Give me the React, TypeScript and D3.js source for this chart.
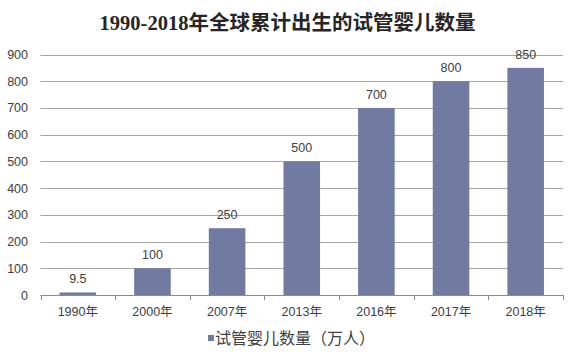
import React from "react";
import * as d3 from "d3";

const categories = ["1990年", "2000年", "2007年", "2013年", "2016年", "2017年", "2018年"];
const values = [9.5, 100, 250, 500, 700, 800, 850];
const valueLabels = ["9.5", "100", "250", "500", "700", "800", "850"];
const yTicks = [0, 100, 200, 300, 400, 500, 600, 700, 800, 900];
const title = "1990-2018年全球累计出生的试管婴儿数量";
const seriesName = "试管婴儿数量（万人）";

const W = 574;
const H = 357;
const left = 40.5;
const right = 563;
const top = 54.5;
const bottom = 295;
const barColor = "#717aa0";
const sans = "'Liberation Sans', Arial, 'Noto Sans CJK SC', sans-serif";

export default function App() {
  const x = d3.scaleBand<string>().domain(categories).range([left, right]).paddingInner(0).paddingOuter(0);
  const y = d3.scaleLinear().domain([0, 900]).range([bottom, top]);
  const bw = x.bandwidth() * 0.49;
  const ticksX = [...categories.map((c) => x(c) as number), right];

  return (
    <svg width={W} height={H} style={{ position: "absolute", left: 0, top: 0, background: "#fff" }}>
      <rect x={0} y={0} width={W} height={H} fill="#fff" />
      <text
        x={287.5}
        y={30}
        textAnchor="middle"
        fontSize={20.5}
        fontWeight="bold"
        fill="#262626"
        fontFamily="'Liberation Serif', 'Times New Roman', 'Noto Sans CJK SC', serif"
      >
        {title}
      </text>
      {yTicks.map((t) => (
        <g key={t}>
          {t > 0 && <line x1={left} x2={right} y1={Math.round(y(t)) + 0.5} y2={Math.round(y(t)) + 0.5} stroke="#a6a6a6" strokeWidth={1} />}
          <text x={28} y={y(t) + 4.5} textAnchor="end" fontSize={12.5} fill="#404040" fontFamily={sans}>
            {t}
          </text>
        </g>
      ))}
      {categories.map((c, i) => {
        const cx = (x(c) as number) + x.bandwidth() / 2;
        return (
          <g key={c}>
            <rect x={cx - bw / 2} y={y(values[i])} width={bw} height={bottom - y(values[i])} fill={barColor} />
            <text x={cx} y={y(values[i]) - 9} textAnchor="middle" fontSize={12.5} fill="#404040" fontFamily={sans}>
              {valueLabels[i]}
            </text>
            <text x={cx} y={316} textAnchor="middle" fontSize={12.5} fill="#404040" fontFamily={sans}>
              {c}
            </text>
          </g>
        );
      })}
      <line x1={left} x2={right} y1={bottom + 0.5} y2={bottom + 0.5} stroke="#8c8c8c" strokeWidth={1} />
      {ticksX.map((tx, i) => (
        <line key={i} x1={Math.round(tx) + 0.5} x2={Math.round(tx) + 0.5} y1={bottom} y2={bottom + 5} stroke="#8c8c8c" strokeWidth={1} />
      ))}
      <rect x={208} y={335} width={6} height={6} fill={barColor} />
      <text x={215} y={344} fontSize={16} fill="#404040" fontFamily={sans}>
        {seriesName}
      </text>
    </svg>
  );
}
